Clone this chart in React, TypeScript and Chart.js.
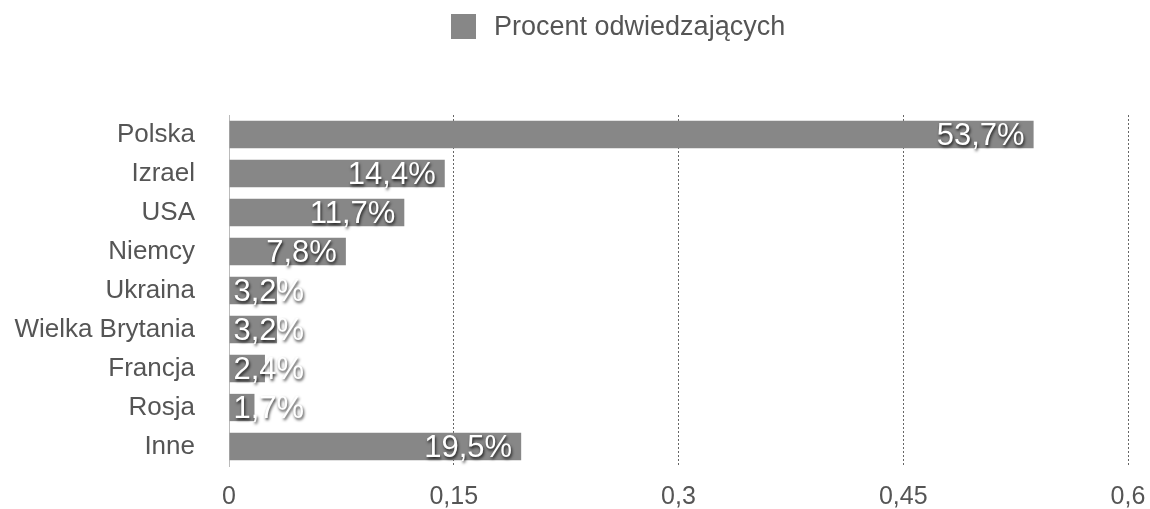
import React, { useEffect, useRef } from "react";
import { Chart, registerables } from "chart.js";

Chart.register(...registerables);

const categories = ["Polska", "Izrael", "USA", "Niemcy", "Ukraina", "Wielka Brytania", "Francja", "Rosja", "Inne"];
const seriesName = "Procent odwiedzających";
const values = [0.537, 0.144, 0.117, 0.078, 0.032, 0.032, 0.024, 0.017, 0.195];
const valueLabels = ["53,7%", "14,4%", "11,7%", "7,8%", "3,2%", "3,2%", "2,4%", "1,7%", "19,5%"];
const xTicks = [0, 0.15, 0.3, 0.45, 0.6];
const xTickLabels = ["0", "0,15", "0,3", "0,45", "0,6"];

const FONT = "'Liberation Sans', Arial, sans-serif";
const BAR = "#878787";
const TEXT = "#555555";

const labelsPlugin = {
  id: "barLabels",
  afterDatasetsDraw(chart: any) {
    const ctx = chart.ctx;
    const meta = chart.getDatasetMeta(0);
    ctx.save();
    ctx.font = `31px ${FONT}`;
    ctx.textBaseline = "middle";
    ctx.textAlign = "left";
    meta.data.forEach((bar: any, i: number) => {
      const txt = valueLabels[i];
      const w = ctx.measureText(txt).width;
      let x = bar.x - 9 - w;
      const minX = bar.base + 4;
      if (x < minX) x = minX;
      ctx.shadowColor = "rgba(0,0,0,0.8)";
      ctx.shadowBlur = 3;
      ctx.shadowOffsetX = 1;
      ctx.shadowOffsetY = 2;
      ctx.fillStyle = "#ffffff";
      ctx.fillText(txt, x, bar.y + 2);
    });
    ctx.restore();
  },
};

const legendPlugin = {
  id: "customLegend",
  afterDraw(chart: any) {
    const ctx = chart.ctx;
    ctx.save();
    const box = 25;
    const bx = 451;
    const by = 14;
    ctx.fillStyle = BAR;
    ctx.fillRect(bx, by, box, box);
    ctx.font = `27px ${FONT}`;
    ctx.fillStyle = TEXT;
    ctx.textBaseline = "middle";
    ctx.textAlign = "left";
    ctx.fillText(seriesName, bx + box + 18, by + box / 2 + 1);
    ctx.restore();
  },
};

export default function App() {
  const ref = useRef<HTMLCanvasElement>(null);
  useEffect(() => {
    document.body.style.margin = "0";
    const chart = new Chart(ref.current!, {
      type: "bar",
      data: {
        labels: categories,
        datasets: [
          {
            label: seriesName,
            data: values,
            backgroundColor: BAR,
            borderWidth: 0,
            categoryPercentage: 1,
            barPercentage: 0.7,
          },
        ],
      },
      options: {
        indexAxis: "y",
        responsive: false,
        animation: false,
        layout: { padding: { top: 115, right: 22, left: 0, bottom: 0 } },
        plugins: {
          legend: { display: false },
          tooltip: { enabled: false },
        },
        scales: {
          x: {
            min: 0,
            max: 0.6,
            afterBuildTicks: (scale: any) => {
              scale.ticks = xTicks.map((v) => ({ value: v }));
            },
            afterFit: (scale: any) => {
              scale.height = 43;
              scale.paddingLeft = 0;
              scale.paddingRight = 0;
            },
            ticks: {
              callback: (_v: any, i: number) => xTickLabels[i],
              font: { family: FONT, size: 25 },
              color: TEXT,
              padding: 16,
              maxRotation: 0,
            },
            grid: {
              drawTicks: false,
              color: (c: any) => (c.tick && c.tick.value === 0 ? "rgba(0,0,0,0)" : "#666666"),
              lineWidth: 1,
            },
            border: { display: false, dash: [2, 2] },
          },
          y: {
            afterFit: (scale: any) => {
              scale.width = 229;
              scale.paddingTop = 0;
              scale.paddingBottom = 0;
            },
            ticks: {
              font: { family: FONT, size: 26 },
              color: TEXT,
              padding: 34,
            },
            grid: { display: false, drawTicks: false },
            border: { display: true, color: "#bbbbbb", width: 1 },
          },
        },
      },
      plugins: [labelsPlugin, legendPlugin],
    });
    return () => chart.destroy();
  }, []);
  return <canvas ref={ref} width={1150} height={509} style={{ display: "block" }} />;
}
